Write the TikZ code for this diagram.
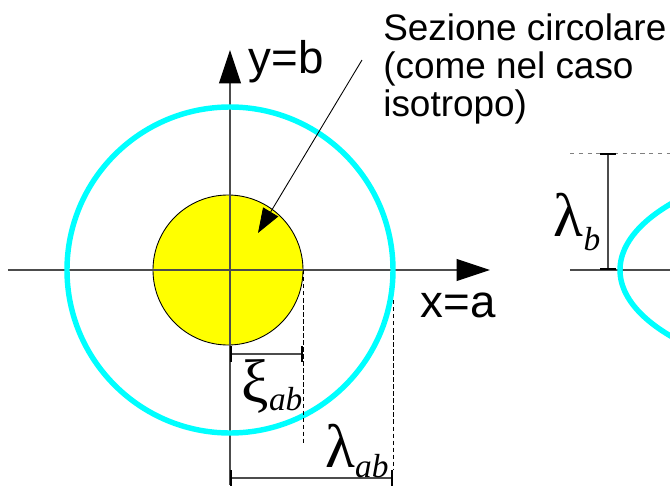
\documentclass[tikz,border=0pt]{standalone}
\usepackage{fontspec}
\setmainfont{Liberation Serif}
\newfontfamily\sansfont{Liberation Sans}
\usetikzlibrary{arrows.meta}
\definecolor{azzurro}{RGB}{0,255,255}
\definecolor{giallo}{RGB}{255,255,0}
\newcommand\pedice[2]{\raisebox{#1}{\fontsize{19}{19}\selectfont\itshape #2}}
\tikzset{
  asse/.style={gray!60!black, line width=0.6pt, -{Triangle[length=19pt,width=12.5pt,black]}},
  quota/.style={gray!60!black, line width=0.6pt, {Bar[width=9pt,line width=1.3pt,black]}-{Bar[width=9pt,line width=1.3pt,black]}},
  richiamo/.style={black, line width=0.4pt, dash pattern=on 2.5pt off 1.5pt},
  lettera/.style={font=\sansfont\fontsize{26}{26}\selectfont, inner sep=0pt},
  greca/.style={font=\fontsize{35}{35}\selectfont, inner sep=0pt},
}
\begin{document}
\begin{tikzpicture}[line cap=butt,line join=round,x=0.02cm,y=0.02cm]
  \def\rA{75}   % raggio sezione circolare
  \def\rB{163}  % raggio circonferenza
  \useasboundingbox (-230,-221) rectangle (440,270);
  % Coordinate principali
  \coordinate (O) at (0,0);
  \coordinate (W) at (-222,0);
  \coordinate (E) at (260,0);
  \coordinate (S) at (0,-215);
  \coordinate (N) at (0,220);
  % Sezione circolare (gialla)
  \filldraw[fill=giallo, draw=black, line width=0.5pt] (-2,0) circle (\rA);
  % Assi
  \draw[asse] (W) -- (E);
  \draw[asse] (S) -- (N);
  % Circonferenza azzurra
  \draw[azzurro, line width=3.1pt] (O) circle (\rB);
  % Linee di richiamo
  \draw[richiamo] (73,0) -- (73,-175);
  \draw[richiamo] (\rB,-30) -- (\rB,-200);
  % Quote
  \coordinate (Q1) at (0,-84);
  \coordinate (Q2) at (73,-84);
  \coordinate (Q3) at (0,-208);
  \coordinate (Q4) at (\rB,-208);
  \draw[quota] (Q1) -- (Q2);
  \draw[quota] (Q3) -- (Q4);
  % Etichette
  \node[lettera] (yb) at (56,208) {y=b};
  \node[lettera] (xa) at (228,-35) {x=a};
  \node[greca] (xi) at (42,-116) {ξ\pedice{-5pt}{ab}};
  \node[greca] (lab) at (127,-181) {λ\pedice{-6pt}{ab}};
  % Testo e freccia
  \node[anchor=north west, align=left, inner sep=0pt,
        font=\sansfont\fontsize{21}{21.8}\selectfont] (sezione) at (153,257)
        {Sezione circolare\\(come nel caso\\isotropo)};
  \coordinate (inizio) at (132,210);
  \coordinate (punta) at (28,37);
  \draw[line width=0.5pt, -{Triangle[length=14pt,width=10pt]}] (inizio) -- (punta);
  % Seconda figura (ellisse, tagliata dal bordo)
  \begin{scope}
    \clip (-230,-221) rectangle (440,270);
    \draw[gray!60!black, line width=0.6pt] (340,0) -- (440,0);
    \draw[gray, line width=0.5pt, dash pattern=on 2.5pt off 2.5pt] (340,117) -- (440,117);
    \draw[azzurro, line width=3.1pt] (680,0) ellipse (290 and 117);
  \end{scope}
  \coordinate (B1) at (378,0);
  \coordinate (B2) at (378,117);
  \draw[quota] (B1) -- (B2);
  \node[greca] (lb) at (347,48) {λ\pedice{-8pt}{b}};
\end{tikzpicture}
\end{document}
